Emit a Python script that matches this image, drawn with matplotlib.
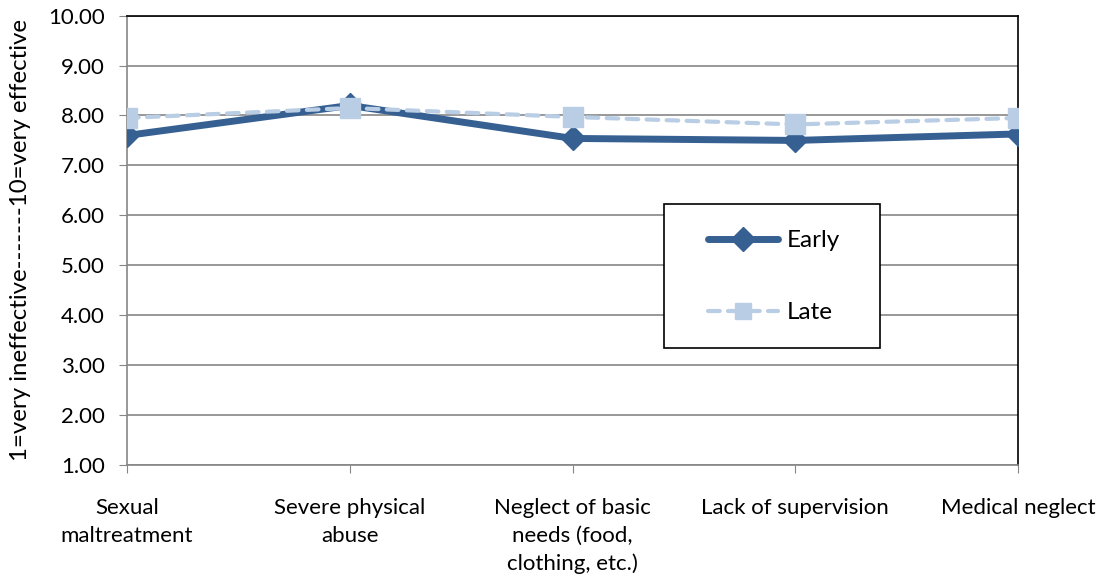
import matplotlib.pyplot as plt
from matplotlib.patches import Rectangle

categories = ["Sexual\nmaltreatment", "Severe physical\nabuse",
              "Neglect of basic\nneeds (food,\nclothing, etc.)",
              "Lack of supervision", "Medical neglect"]
early = [7.60, 8.20, 7.54, 7.50, 7.63]
late = [7.95, 8.15, 7.97, 7.82, 7.95]
yticks = [1, 2, 3, 4, 5, 6, 7, 8, 9, 10]

plt.rcParams['font.family'] = ['Lato', 'DejaVu Sans']

fig = plt.figure(figsize=(11, 5.77), dpi=100)
ax = fig.add_axes([0.1155, 0.194, 0.81, 0.779])

x = list(range(len(categories)))
ax.plot(x, early, color='#366092', linewidth=5, marker='D', markersize=12,
        label='Early', zorder=3, solid_capstyle='round', solid_joinstyle='round')
ax.plot(x, late, color='#B9CDE5', linewidth=3, linestyle=(0, (2.8, 2.0)),
        dash_capstyle='round', marker='s', markersize=14, label='Late', zorder=4)

ax.set_xlim(0, len(categories) - 1)
ax.set_ylim(1, 10)
ax.set_yticks(yticks)
ax.set_yticklabels([f"{v:.2f}" for v in yticks], fontsize=16)
ax.set_xticks(x)
ax.set_xticklabels(categories, fontsize=16, linespacing=1.45)
ax.tick_params(axis='x', length=6, color='#868686', pad=18)
ax.tick_params(axis='y', length=6, color='#868686', pad=10)

ax.grid(axis='y', color='#868686', linewidth=1.2)
ax.set_axisbelow(True)
for side in ['left', 'bottom']:
    ax.spines[side].set_color('#868686')
    ax.spines[side].set_linewidth(1.2)
for side in ['top', 'right']:
    ax.spines[side].set_color('black')
    ax.spines[side].set_linewidth(1.2)

ax.set_ylabel("1=very ineffective-------10=very effective", fontsize=17.3)
ax.yaxis.set_label_coords(-0.108, 0.5)

# legend box drawn separately so the entries can sit inside it freely
box = Rectangle((0.603, 0.261), 0.242, 0.319, transform=ax.transAxes,
                facecolor='white', edgecolor='black', linewidth=1.2, zorder=6)
ax.add_patch(box)
leg = ax.legend(loc='center left', bbox_to_anchor=(0.652, 0.4185),
                fontsize=17.5, frameon=False, handlelength=2.9,
                labelspacing=2.1, borderpad=0, handletextpad=0.33,
                borderaxespad=0)
leg.set_zorder(7)
leg.legend_handles[1].set_markersize(11)

fig.savefig("out.png", dpi=100)
